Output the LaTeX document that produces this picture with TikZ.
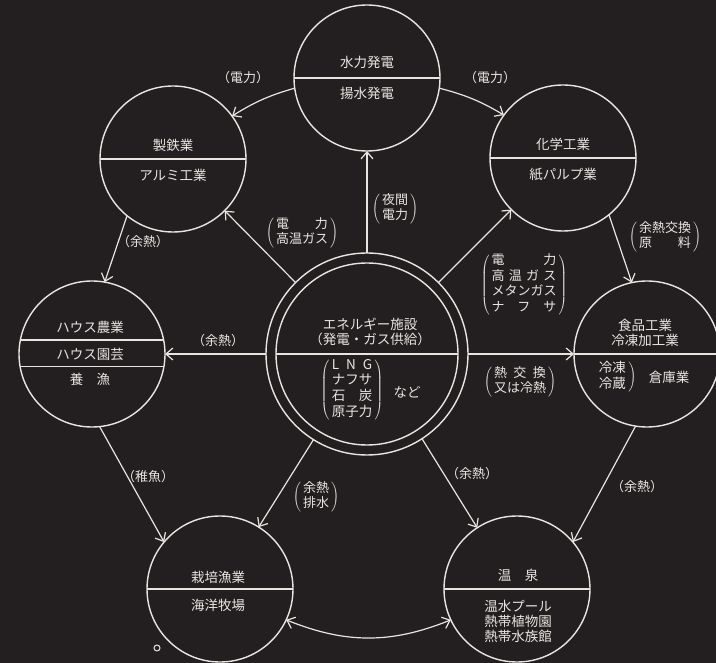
\documentclass[tikz,border=0pt]{standalone}
\usepackage{fontspec}
\newfontfamily\jp{Noto Sans CJK JP}
\usetikzlibrary{arrows.meta}
\definecolor{bg}{HTML}{231F20}
\definecolor{fg}{HTML}{E8E5E1}
\newcommand\mybrk[1]{$\left(\,\begin{tabular}{@{}c@{}}#1\end{tabular}\,\right)$}
\begin{document}
\begin{tikzpicture}[x=1pt,y=-1pt,
  ring/.style={circle, draw=fg, line width=1.4pt, minimum size=146pt, inner sep=0pt, outer sep=0pt},
  txt/.style={text=fg, font=\jp\fontsize{13.5}{15}\selectfont, align=center, inner sep=0pt},
  lbl/.style={text=fg, font=\jp\fontsize{13}{15.5}\selectfont, align=center, inner sep=0pt},
  divider/.style={draw=fg, line width=1.4pt},
  conn/.style={draw=fg, line width=1.2pt, -{Straight Barb[length=7pt,width=12pt,line width=1.2pt]}},
  dconn/.style={draw=fg, line width=1.2pt, {Straight Barb[length=7pt,width=12pt,line width=1.2pt]}-{Straight Barb[length=7pt,width=12pt,line width=1.2pt]}},
]
\fill[bg] (0,0) rectangle (716,663);
\useasboundingbox (0,0) rectangle (716,663);

% circles
\node[ring, minimum size=202pt] (E) at (367,354) {};
\node[ring, minimum size=182pt] (E2) at (367,354) {};
\node[ring] (W) at (367,78) {};
\node[ring] (S) at (173,159) {};
\node[ring] (C) at (563,158) {};
\node[ring] (H) at (92,354) {};
\node[ring] (F) at (647,354) {};
\node[ring] (B) at (220,589) {};
\node[ring] (O) at (517,589) {};

% dividers
\draw[divider] (E2.west) -- (E2.east);
\draw[divider] (W.west) -- (W.east);
\draw[divider] (S.west) -- (S.east);
\draw[divider] (C.west) -- (C.east);
\draw[divider] (H.169) -- (H.11);
\draw[divider] (H.-170) -- (H.-10);
\draw[divider] (F.west) -- (F.east);
\draw[divider] (B.west) -- (B.east);
\draw[divider] (O.west) -- (O.east);

% circle texts
\node[txt] (Et) at (370,332) {エネルギー施設\\（発電・ガス供給）};
\node[txt] (El) at (352,390) {$\left(\,\begin{tabular}{@{}c@{}}\makebox[3em][s]{L\hfil N\hfil G}\\ナフサ\\\makebox[3em][s]{石\hfil 炭}\\原子力\end{tabular}\,\right)$};
\node[txt] (En) at (407,392) {など};
\node[txt] (Wa) at (367,62) {水力発電};
\node[txt] (Wb) at (367,93) {揚水発電};
\node[txt] (Sa) at (173,145) {製鉄業};
\node[txt] (Sb) at (173,175) {アルミ工業};
\node[txt] (Ca) at (563,144) {化学工業};
\node[txt] (Cb) at (563,175) {紙パルプ業};
\node[txt] (Ha) at (90,327) {ハウス農業};
\node[txt] (Hb) at (90,354) {ハウス園芸};
\node[txt] (Hc) at (90,379) {養　漁};
\node[txt] (Fa) at (645,333) {食品工業\\冷凍加工業};
\node[txt] (Fb) at (617,377) {$\left.\begin{tabular}{@{}c@{}}冷凍\\冷蔵\end{tabular}\,\right)$};
\node[txt] (Fc) at (669,377) {倉庫業};
\node[txt] (Ba) at (218,577) {栽培漁業};
\node[txt] (Bb) at (218,605) {海洋牧場};
\node[txt] (Oa) at (518,575) {温　泉};
\node[txt] (Ob) at (518,621) {温水プール\\熱帯植物園\\熱帯水族館};

% connectors
\draw[conn] (E.135) -- (S.-45);
\draw[conn] (E.45) -- (C.-135);
\draw[conn] (E.90) -- (W.-90);
\draw[conn] (E.180) -- (H.0);
\draw[conn] (E.0) -- (F.180);
\draw[conn] (E.-122) -- (B.58);
\draw[conn] (E.-57) -- (O.123);
\draw[conn] (S.-129) -- (H.80);
\draw[conn] (C.-51) -- (F.102);
\draw[conn] (H.-84) -- (B.140);
\draw[conn] (F.-99) -- (O.40);
\draw[conn] (W.-8) to[bend left=8] (C.144);
\draw[conn] (W.188) to[bend right=8] (S.36);
\draw[dconn] (B.-25) to[bend right=22] (O.205);
\node[circle, draw=fg, line width=1pt, minimum size=6pt, inner sep=0pt] (dot) at (157,648) {};

% labels
\node[lbl] (L1) at (243,78) {（電力）};
\node[lbl] (L2) at (490,78) {（電力）};
\node[lbl] (L3) at (302,233) {\mybrk{\makebox[4em][s]{電\hfil 力}\\高温ガス}};
\node[lbl] (L4) at (395,209) {\mybrk{夜間\\電力}};
\node[lbl] (L5) at (524,285) {\mybrk{\makebox[5em][s]{電\hfil 力}\\\makebox[5em][s]{高\hfil 温\hfil ガ\hfil ス}\\メタンガス\\\makebox[5em][s]{ナ\hfil フ\hfil サ}}};
\node[lbl] (L6) at (665,237) {\mybrk{余熱交換\\\makebox[4em][s]{原\hfil 料}}};
\node[lbl] (L7) at (143,242) {（余熱）};
\node[lbl] (L8) at (218,341) {（余熱）};
\node[lbl] (L9) at (520,382) {\mybrk{\makebox[4em][s]{熱\hfil 交\hfil 換}\\又は冷熱}};
\node[lbl] (L10) at (148,477) {（稚魚）};
\node[lbl] (L11) at (316,497) {\mybrk{余熱\\排水}};
\node[lbl] (L12) at (472,474) {（余熱）};
\node[lbl] (L13) at (637,487) {（余熱）};
\end{tikzpicture}
\end{document}
